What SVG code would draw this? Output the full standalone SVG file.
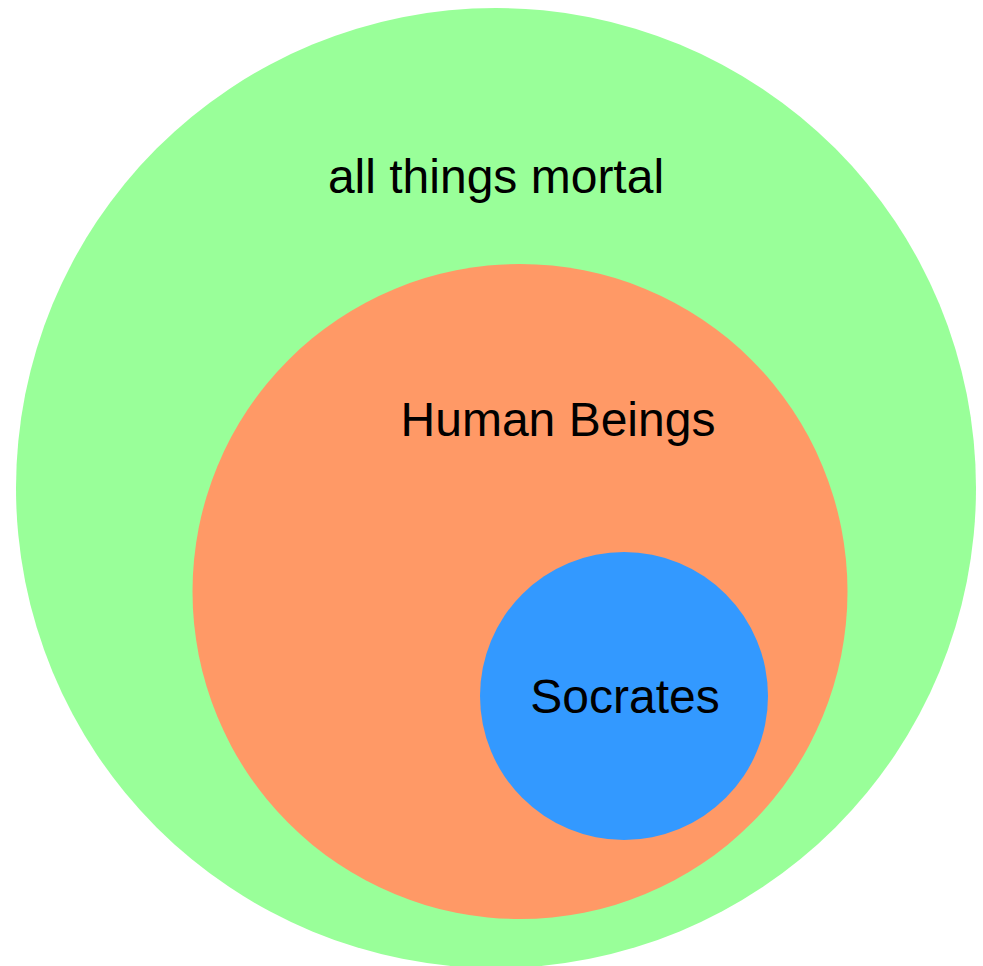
<svg xmlns="http://www.w3.org/2000/svg" width="983" height="966" viewBox="0 0 983 966">
<style>
text { font-family: "Liberation Sans", Arial, sans-serif; font-size: 48px; fill: #000; text-anchor: middle; }
</style>
<rect width="983" height="966" fill="#fff"/>
<g id="mortal">
<circle cx="496" cy="488" r="480" fill="#99ff99"/>
<text x="496" y="193">all things mortal</text>
</g>
<g id="human">
<circle cx="520" cy="591.5" r="327.5" fill="#ff9966"/>
<text x="558" y="436">Human Beings</text>
</g>
<g id="socrates">
<circle cx="624" cy="696" r="144" fill="#3399ff"/>
<text x="625" y="713">Socrates</text>
</g>
<g id="connectors"/>
</svg>
